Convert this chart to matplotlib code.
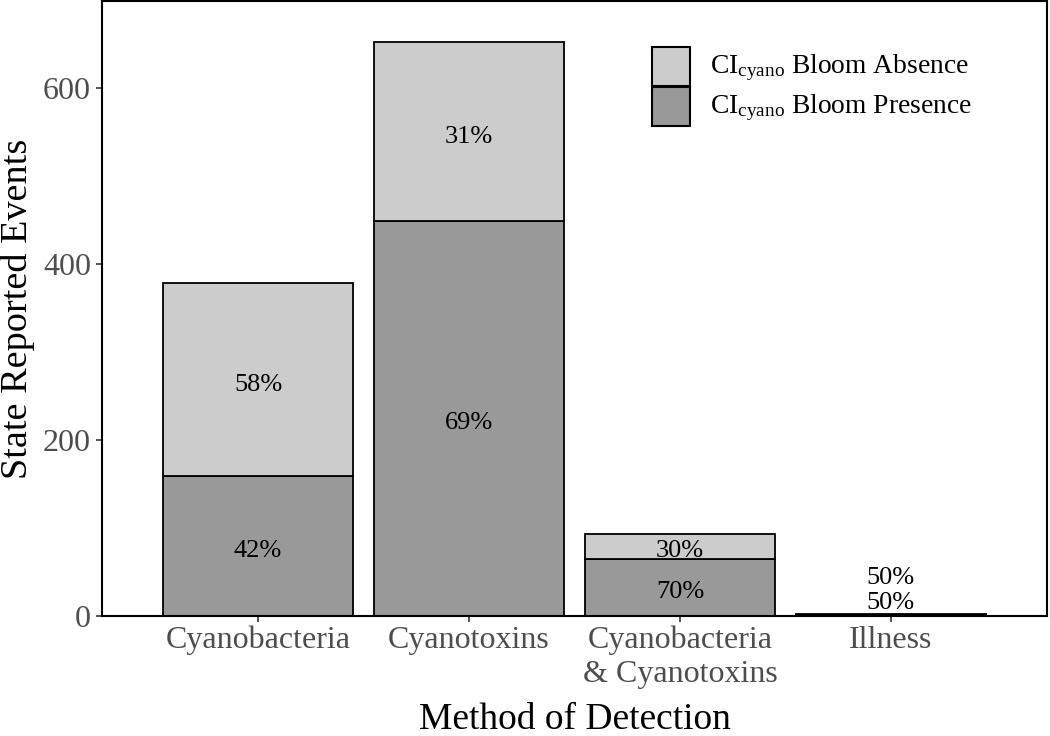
import matplotlib
matplotlib.use("Agg")
import matplotlib.pyplot as plt
from matplotlib.patches import Patch, Rectangle
from matplotlib.legend_handler import HandlerPatch

# ---- data ----
categories = ["Cyanobacteria", "Cyanotoxins", "Cyanobacteria\n& Cyanotoxins", "Illness"]
presence = [159, 449, 65, 1]
absence = [219, 203, 28, 1]
yticks = [0, 200, 400, 600]
series_labels = [r"CI$_{\mathregular{cyano}}$ Bloom Absence",
                 r"CI$_{\mathregular{cyano}}$ Bloom Presence"]

plt.rcParams["font.family"] = ["Liberation Serif", "DejaVu Serif"]
plt.rcParams["mathtext.fontset"] = "custom"
plt.rcParams["mathtext.rm"] = "Liberation Serif"
plt.rcParams["mathtext.it"] = "Liberation Serif:italic"
plt.rcParams["mathtext.bf"] = "Liberation Serif:bold"

W, H = 1050, 736
fig = plt.figure(figsize=(W / 100, H / 100), dpi=100)
ax = fig.add_axes([102 / W, 120 / H, 945 / W, 615 / H])

c_abs = "#cccccc"
c_pre = "#999999"
x = list(range(len(categories)))
width = 0.9
ax.bar(x, presence, width=width, color=c_pre, edgecolor="black", linewidth=1.3, zorder=2)
ax.bar(x, absence, width=width, bottom=presence, color=c_abs, edgecolor="black", linewidth=1.3, zorder=2)

ax.set_xlim(-0.74, len(categories) - 1 + 0.74)
ax.set_ylim(0, 699)

# percentage labels
fs_lab = 19
for i, (p, a) in enumerate(zip(presence, absence)):
    tot = p + a
    pp = f"{round(100 * p / tot)}%"
    pa = f"{round(100 * a / tot)}%"
    if tot < 20:
        ax.annotate(pp, (i, 0), xytext=(0, 9.5), textcoords="offset points",
                    ha="center", va="center", fontsize=fs_lab, zorder=3)
        ax.annotate(pa, (i, 0), xytext=(0, 27.5), textcoords="offset points",
                    ha="center", va="center", fontsize=fs_lab, zorder=3)
    else:
        ax.annotate(pp, (i, p / 2), xytext=(0, -3.5), textcoords="offset points",
                    ha="center", va="center", fontsize=fs_lab, zorder=3)
        ax.annotate(pa, (i, p + a / 2), xytext=(0, -3.5), textcoords="offset points",
                    ha="center", va="center", fontsize=fs_lab, zorder=3)

ax.set_xticks(x)
ax.set_xticklabels(categories, fontsize=23, color="#4d4d4d", linespacing=1.2)
ax.set_yticks(yticks)
ax.set_yticklabels([str(v) for v in yticks], fontsize=23, color="#4d4d4d")
ax.tick_params(axis="both", length=4, width=1.2, color="#333333", pad=3)
ax.tick_params(axis="y", pad=4)

for s in ax.spines.values():
    s.set_linewidth(1.5)
    s.set_color("black")

ax.set_xlabel("Method of Detection", fontsize=27, labelpad=10)
ax.set_ylabel("State Reported Events", fontsize=27.5, labelpad=6)


def full_box(legend, orig_handle, xdescent, ydescent, width, height, fontsize):
    shift = 0.23 * fontsize
    return Rectangle(xy=(-xdescent, -ydescent - shift), width=width,
                     height=height + ydescent)


handles = [Patch(facecolor=c_abs, edgecolor="black", linewidth=1.5),
           Patch(facecolor=c_pre, edgecolor="black", linewidth=1.5)]
fig.legend(handles, series_labels, loc="upper left",
           bbox_to_anchor=(652 / W, 1 - 48 / H), frameon=False,
           fontsize=19.8, handlelength=1.38, handleheight=1.42,
           handletextpad=0.72, labelspacing=0.18, borderpad=0, borderaxespad=0,
           handler_map={Patch: HandlerPatch(patch_func=full_box)})

fig.savefig("out.png", dpi=100)
